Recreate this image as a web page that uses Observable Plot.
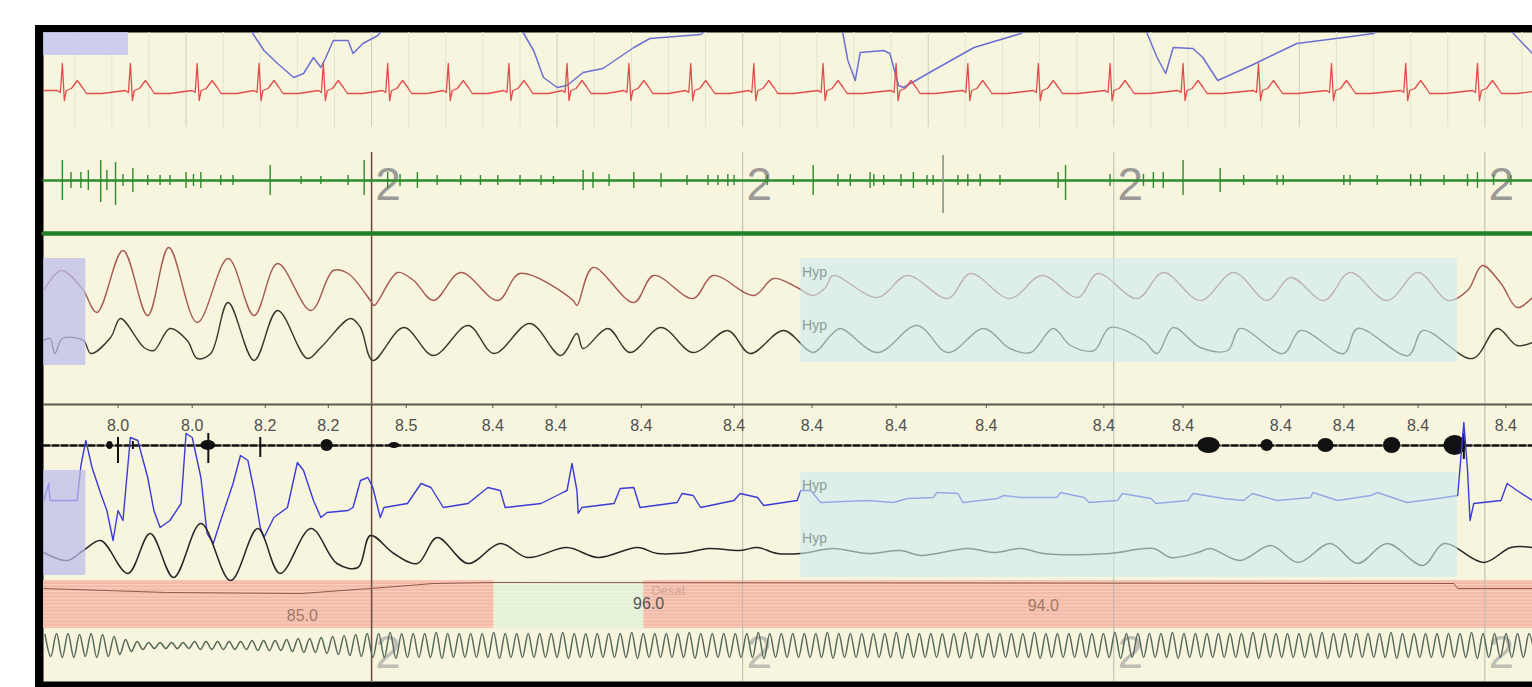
<!DOCTYPE html>
<html><head><meta charset="utf-8">
<script src="https://cdn.jsdelivr.net/npm/d3@7"></script>
<script src="https://cdn.jsdelivr.net/npm/@observablehq/plot@0.6"></script>
<style>
html,body{margin:0;padding:0;background:#fff;width:1532px;height:687px;overflow:hidden;}
#frame{position:absolute;left:35px;top:25px;width:1497px;height:662px;background:#000;}
#chart{position:absolute;left:0;top:0;}
</style></head>
<body><div id="frame"></div><div id="chart"></div>
<script>
// ---------------- DATA (time in seconds, amplitudes in display units, up = positive) ----------------
const epochTimes = [30, 60, 90, 120];
const epochStages = ["2", "2", "2", "2"];
const cursorTime = 30;

// top pleth-like trace (runs off the top of the panel between the dips)
const plethTrace = [[3.48,50],[19.8,50],[20.4,27],[21.3,10],[22.4,-3],[23.7,-17],[24.5,-13],[25.3,3],[25.9,-7],[26.3,3],[26.9,20],[28.1,20],[28.5,7],[29.3,17],[30.5,25],[31.5,40],[41.2,50],[42.3,27],[43.1,10],[43.9,-17],[45.0,-27],[45.8,-25],[47.1,-12],[48.7,-8],[51.2,13],[52.5,22],[56.6,26],[58.2,40],[67.5,50],[68.1,27],[68.5,0],[69.1,-20],[69.5,8],[71.4,10],[71.9,7],[72.6,-25],[73.0,-27],[75.4,-10],[78.7,13],[82.5,27],[83.7,40],[92.2,50],[92.7,27],[93.5,3],[94.2,-13],[94.8,13],[96.4,12],[97.2,3],[98.4,-20],[101.1,-5],[104.8,17],[108.6,23],[111.0,27],[112.4,40],[121.7,50],[122.3,27],[123.85,7]];

// ECG: R-peak times and the beat shape (offset s, amplitude)
const ecgBeatTimes = [5.0,10.5,15.9,20.9,26.1,31.3,36.2,41.1,45.8,50.8,55.8,60.9,66.5,72.4,78.2,83.9,89.7,95.6,101.7,107.6,113.6,119.4];
const ecgBeatShape = [[-0.4,0],[-0.16,-2],[0,27],[0.16,-10],[0.32,0],[0.73,2],[1.21,10],[1.62,3],[1.94,-3],[3.2,-3]];

// EMG bursts: [time, up, down]
const emgSpikes = [[5.0,20,20],[5.7,8,8],[6.5,8,8],[7.1,10,10],[8.1,20,22],[8.6,10,10],[9.3,18,25],[9.9,6,6],[10.7,12,12],[11.9,5,5],[12.9,5,5],[13.7,5,5],[15.0,8,8],[15.6,6,6],[16.2,8,8],[17.8,5,5],[18.8,5,5],[21.8,15,15],[24.3,4,4],[25.9,4,4],[28.1,5,5],[29.4,20,15],[31.3,8,8],[32.3,6,6],[33.7,8,8],[35.3,5,5],[37.2,5,5],[38.8,5,5],[40.2,5,5],
[42.0,5,5],[43.7,5,5],[44.7,4,4],[47.1,10,10],[47.9,8,8],[49.2,6,6],[51.2,8,8],[53.4,7,7],[55.5,5,5],[57.2,5,5],[58.0,5,5],[58.8,6,6],[59.3,5,5],[62.0,5,5],[64.1,5,5],[65.7,15,15],[67.7,6,6],[68.7,6,6],[70.3,8,8],[70.6,6,6],[71.4,5,5],[72.8,6,6],[73.8,8,8],[74.9,5,5],[75.4,5,5],[77.4,5,5],[78.2,6,6],[79.2,6,6],[80.8,5,5],
[85.5,8,8],[86.1,15,20],[89.7,6,6],[92.4,6,6],[93.2,8,8],[94.0,8,8],[95.6,20,15],[98.6,12,12],[100.5,5,5],[103.2,5,5],[103.7,5,5],[108.6,5,5],[109.1,5,5],[111.3,5,5],[114.0,6,6],[114.8,6,6],[116.7,5,5],[118.6,6,6],[119.4,8,8],[120.7,5,5],[122.1,5,5]];
const markerEvents = [[76.2,25,33]];

// thoracic effort
const thoracic = [[3.5,-3],[4.9,17],[6.6,-1],[7.8,-25],[9.9,37],[11.9,-28],[13.6,40],[15.9,-35],[18.4,29],[20.5,-28],[22.4,24],[25.1,-23],[26.9,17],[28.1,14],[29.9,-13],[30.2,-18],[32.1,15],[33.4,7],[35.0,-13],[37.2,15],[40.2,-13],[42.0,14],[46.3,-13],[46.6,-18],[47.9,20],[51.2,-15],[52.8,12],[56.0,-11],[57.6,12],[60.9,-8],[62.5,9],[64.4,0],[65.7,-8],[66.7,0],[67.3,12],[70.9,-10],[73.3,12],[76.6,-11],[78.4,14],[81.6,-11],[84.2,12],[87.1,-10],[88.7,14],[91.9,-11],[94.0,15],[97.0,-13],[99.7,15],[102.4,-13],[104.3,10],[107.0,-13],[109.1,15],[112.1,-13],[114.6,15],[117.0,-13],[118.6,-3],[119.8,22],[121.3,4],[122.6,-20],[123.85,-10]];

// abdominal effort
const abdominal = [[3.5,0],[4.0,2],[4.4,-13],[5.0,2],[6.7,0],[7.3,-13],[8.9,3],[9.7,22],[11.6,-7],[12.4,-10],[13.7,12],[15.1,0],[15.9,-18],[17.0,-13],[18.4,38],[20.5,-20],[22.4,30],[24.8,-18],[25.9,-7],[28.3,22],[29.1,13],[30.1,-20],[32.6,13],[35.0,-15],[37.8,15],[39.9,-13],[42.8,17],[45.3,-15],[46.6,7],[47.1,-8],[49.1,12],[50.9,-12],[53.4,13],[56.0,-12],[58.8,10],[60.6,-13],[63.3,10],[65.7,-12],[67.1,5],[67.9,12],[70.9,-12],[74.1,15],[76.6,-12],[79.5,12],[81.6,-8],[83.3,-12],[85.1,12],[86.5,-5],[88.4,-10],[89.7,13],[92.4,0],[93.5,-13],[94.8,13],[97.0,-7],[99.2,-10],[100.2,12],[103.7,-13],[105.1,10],[108.6,-13],[109.7,12],[113.8,-15],[115.0,10],[119.0,-18],[121.0,12],[122.6,-5],[123.85,-2]];

// values printed along the snore channel
const rateTimes = [9.5,15.5,21.4,26.5,32.8,39.8,44.9,51.8,59.3,65.6,72.4,79.7,89.2,95.6,103.5,108.6,114.6,121.7];
const rateValues = ["8.0","8.0","8.2","8.2","8.5","8.4","8.4","8.4","8.4","8.4","8.4","8.4","8.4","8.4","8.4","8.4","8.4","8.4"];

// snore: bursts [start, end, half-height] and single spikes [time, up, down]
const snoreBursts = [[8.6,9.1,4],[16.2,17.4,5],[25.9,26.9,6],[31.4,32.3,3],[96.8,98.6,8],[101.9,102.9,6],[106.5,107.8,7],[111.8,113.2,8],[116.7,118.5,10]];
const snoreSpikes = [[9.5,8,18],[10.7,4,4],[16.8,12,18],[21.0,8,12],[118.3,12,14]];

// nasal pressure
const nasalFlow = [[3.5,3],[3.9,20],[4.0,3],[6.2,3],[6.5,38],[6.9,63],[7.4,36],[8.1,10],[8.6,-7],[9.1,-37],[9.5,-7],[9.9,-17],[10.5,66],[11.1,63],[11.9,26],[12.4,-7],[12.9,-24],[13.7,-17],[14.6,0],[15.0,70],[15.5,66],[16.2,26],[16.7,-30],[17.2,-40],[17.8,-17],[18.8,20],[19.4,48],[20.0,43],[20.5,13],[21.0,-24],[21.3,-34],[22.1,-14],[23.2,-4],[24.0,41],[24.5,33],[25.3,3],[25.9,-14],[26.4,-9],[28.1,-7],[28.5,-4],[29.1,23],[29.7,26],[30.1,16],[30.7,-14],[31.0,-4],[32.9,0],[34.0,20],[34.8,16],[35.8,-4],[37.8,0],[39.4,16],[40.4,13],[40.8,-4],[43.7,0],[45.3,10],[45.8,13],[46.2,40],[46.6,13],[46.7,-10],[47.0,-4],[49.6,0],[50.1,15],[51.2,16],[51.7,-4],[54.7,1],[55.1,10],[56.0,8],[56.6,-4],[59.3,3],[59.8,10],[61.2,6],[61.7,-2],[64.4,3],[64.7,13],[65.5,13],[66.3,1],[70.1,3],[72.2,1],[73.3,5],[75.4,6],[75.7,11],[77.4,10],[77.8,1],[80.6,5],[81.1,8],[82.5,6],[85.4,6],[85.7,11],[87.6,6],[88.0,1],[90.3,3],[90.7,10],[93.0,5],[93.4,0],[96.0,3],[96.4,10],[98.9,5],[100.5,3],[101.2,10],[103.2,3],[105.9,6],[106.1,11],[108.1,3],[110.8,8],[111.3,11],[113.7,1],[116.2,5],[117.8,8],[118.3,81],[118.6,33],[118.8,-17],[119.1,0],[121.3,3],[121.8,20],[122.6,13],[123.85,3]];

// second effort trace
const effort = [[3.5,-2],[5.4,-10],[6.7,0],[8.1,10],[10.3,-23],[12.1,17],[14.0,-27],[16.2,27],[18.6,-30],[20.8,22],[22.6,-23],[25.1,22],[27.2,-13],[28.9,-17],[29.9,15],[31.8,-3],[33.7,-13],[35.3,13],[37.8,-13],[40.4,7],[42.6,-7],[45.8,3],[48.3,-7],[51.5,3],[53.1,-3],[55.5,-2],[57.2,2],[59.8,0],[61.2,3],[62.8,-3],[64.7,-3],[67.3,2],[70.1,-3],[72.8,0],[74.4,-5],[78.2,2],[80.3,-2],[82.5,2],[84.3,-3],[89.7,-3],[93.2,2],[94.6,-7],[96.8,-2],[97.8,2],[100.2,-10],[102.7,5],[104.9,-12],[107.5,7],[109.7,-13],[112.1,7],[115.0,-15],[116.7,7],[119.9,-12],[122.1,3],[123.85,3]];

// SpO2
const spo2Trace = [[3.5,-3],[13.5,-7],[24.3,-8],[29.9,-3],[35.0,2],[39.9,3],[117.5,2],[117.8,-3],[123.85,-3]];
const spo2Segments = [
  {start: 3.48, end: 39.9, status: "desat", value: 85.0, labelTime: 24.4},
  {start: 39.9, end: 52.0, status: "normal", value: 96.0, labelTime: 52.4},
  {start: 52.0, end: 123.85, status: "desat", value: 94.0, labelTime: 84.3}
];
const desatLabelTime = 52.6;

// respiratory events
const hypopneas = [{start: 64.7, end: 117.8}];
const artifactResp = [{start: 3.48, end: 6.9}];
const artifactTop = [{start: 3.48, end: 10.35}];

// bottom oscillating channel: amplitude of each cycle
const oscPeriod = 0.93, oscStart = 3.6;
const oscAmps = [11,12,12,11,12,11,9,
  6,4,3,3,3,3,4,4,4,4,4,5,5,5,
  6,7,7,8,9,10,11,
  12,12,13,12,12,12,13,12,12,12,12,13,12,12,12,12,12,13,12,12,
  12,12,12,13,12,12,12,12,13,12,12,12,12,12,13,12,12,12,12,12,
  13,12,12,12,12,12,13,12,12,12,12,12,13,12,12,12,12,12,13,12,
  12,12,12,12,12,13,12,12,12,12,13,12,12,12,12,12,12,13,12,12,
  12,12,12,13,12,12,12,12,12,13,12,12,12,12,12,12,13,12,12,12,12,12];

// ---------------- LAYOUT (vertical lanes, in y-scale units measured up from the panel bottom) ----------------
const lane = {pleth: 621, ecg: 591, emg: 501, chin: 448, thor: 394, abd: 341, sep: 277, rateText: 256,
  snore: 236, nasal: 178, effort: 131, spo2: 96, osc: 36};
const band = {grid: [554, 649], epoch: [0, 529], upperEvt: [319, 423], lowerEvt: [104, 209],
  upperArt: [316, 423], lowerArt: [106, 211], topArt: [626, 649], spo2: [53, 101]};
const txt = {stageTop: 496, stageBottom: 28, hypUpper: [409, 356], hypLower: [196, 143], desat: 91, spo2Base: 66};
const FONT = "Liberation Sans, Arial, sans-serif";

// ---------------- DERIVED TABLES ----------------
const ecgSeries = [[3.48, 0]];
for (const r of ecgBeatTimes) for (const [dt, v] of ecgBeatShape) ecgSeries.push([r + dt, v]);
ecgSeries.push([123.85, -1]);

const oscSeries = [];
oscAmps.forEach((a, i) => {
  oscSeries.push([oscStart + i * oscPeriod, a]);
  oscSeries.push([oscStart + (i + 0.5) * oscPeriod, -a]);
});

const gridTimes = d3.range(6, 124, 3);
const stripeRows = d3.range(band.spo2[0] + 2, band.spo2[1], 3.5);
const rateTable = rateTimes.map((t, i) => ({t, label: rateValues[i]}));
const epochTable = epochTimes.map((t, i) => ({t, stage: epochStages[i], cursor: t === cursorTime}));
const span = [{t: 3.48}, {t: 123.85}];

const X = d => d[0];
const on = (base) => (d => base + d[1]);

const chart = Plot.plot({
  width: 1532, height: 687,
  marginLeft: 43, marginRight: 0, marginTop: 32, marginBottom: 6,
  x: {domain: [3.476, 123.85], axis: null},
  y: {domain: [0, 649], axis: null},
  style: {background: "transparent", fontFamily: FONT, overflow: "hidden"},
  marks: [
    Plot.frame({fill: "#f7f5dd", stroke: null}),
    // top-section grid
    Plot.ruleX(gridTimes, {y1: band.grid[0], y2: band.grid[1],
      stroke: t => t % 15 === 0 ? "#c9d0bd" : "#dde7cf", strokeWidth: 1}),
    // SpO2 bands with faint horizontal banding
    Plot.rect(spo2Segments, {x1: "start", x2: "end", y1: band.spo2[0], y2: band.spo2[1],
      fill: d => d.status === "desat" ? "#f4bca8" : "#e4f1d5"}),
    Plot.ruleY(stripeRows, {stroke: "#ffffff", strokeOpacity: 0.3, strokeWidth: 1}),
    // epoch boundaries & cursor
    Plot.ruleX(epochTable, {x: "t", y1: band.epoch[0], y2: band.epoch[1],
      stroke: d => d.cursor ? "#6b4a3c" : "#b9b9ab", strokeWidth: d => d.cursor ? 1.5 : 1}),
    // stage labels
    Plot.text(epochTable, {x: d => d.t + 0.3, y: txt.stageTop, text: "stage", textAnchor: "start",
      fontSize: 46, fill: "#8e8e8e", fillOpacity: 0.9}),
    Plot.text(epochTable, {x: d => d.t + 0.3, y: txt.stageBottom, text: "stage", textAnchor: "start",
      fontSize: 46, fill: "#9a9a9a", fillOpacity: 0.6}),
    // separator
    Plot.ruleY([lane.sep], {stroke: "#5c5c52", strokeWidth: 2}),
    Plot.ruleX(rateTable, {x: "t", y1: lane.sep - 4, y2: lane.sep, stroke: "#5c5c52"}),
    // pleth trace
    Plot.line(plethTrace, {x: X, y: on(lane.pleth), stroke: "#6b70d2", strokeWidth: 1.5, clip: true}),
    // ECG
    Plot.line(ecgSeries, {x: X, y: on(lane.ecg), stroke: "#e24c4c", strokeWidth: 1.3}),
    // EMG
    Plot.line(span, {x: "t", y: lane.emg, stroke: "#2c8a2c", strokeWidth: 2.4}),
    Plot.ruleX(emgSpikes, {x: X, y1: d => lane.emg - d[2], y2: d => lane.emg + d[1], stroke: "#2c8a2c", strokeWidth: 1.4}),
    Plot.ruleX(markerEvents, {x: X, y1: d => lane.emg - d[2], y2: d => lane.emg + d[1], stroke: "#8a948a", strokeWidth: 1.6}),
    Plot.line(span, {x: "t", y: lane.chin, stroke: "#23802a", strokeWidth: 4.5}),
    // efforts
    Plot.line(thoracic, {x: X, y: on(lane.thor), stroke: "#a65a50", strokeWidth: 1.4, curve: "catmull-rom"}),
    Plot.line(abdominal, {x: X, y: on(lane.abd), stroke: "#34382e", strokeWidth: 1.4, curve: "catmull-rom"}),
    // snore
    Plot.line(span, {x: "t", y: lane.snore, stroke: "#111", strokeWidth: 2.6, strokeDasharray: "6,3"}),
    Plot.rect(snoreBursts, {x1: d => d[0], x2: d => d[1], y1: d => lane.snore - d[2], y2: d => lane.snore + d[2], rx: 14, fill: "#111"}),
    Plot.ruleX(snoreSpikes, {x: X, y1: d => lane.snore - d[2], y2: d => lane.snore + d[1], stroke: "#111", strokeWidth: 2}),
    // nasal pressure & effort
    Plot.line(nasalFlow, {x: X, y: on(lane.nasal), stroke: "#3b3bd6", strokeWidth: 1.4}),
    Plot.line(effort, {x: X, y: on(lane.effort), stroke: "#262626", strokeWidth: 1.5, curve: "catmull-rom"}),
    // SpO2 trace
    Plot.line(spo2Trace, {x: X, y: on(lane.spo2), stroke: "#8f5a4a", strokeWidth: 1}),
    // bottom oscillation
    Plot.line(oscSeries, {x: X, y: on(lane.osc), stroke: "#56695a", strokeWidth: 1.5, curve: "catmull-rom", clip: true}),
    // event overlays
    Plot.rect(hypopneas, {x1: "start", x2: "end", y1: band.upperEvt[0], y2: band.upperEvt[1], fill: "#cdebef", fillOpacity: 0.62}),
    Plot.rect(hypopneas, {x1: "start", x2: "end", y1: band.lowerEvt[0], y2: band.lowerEvt[1], fill: "#cdebef", fillOpacity: 0.62}),
    Plot.rect(artifactResp, {x1: "start", x2: "end", y1: band.upperArt[0], y2: band.upperArt[1], fill: "#bcbcec", fillOpacity: 0.72}),
    Plot.rect(artifactResp, {x1: "start", x2: "end", y1: band.lowerArt[0], y2: band.lowerArt[1], fill: "#bcbcec", fillOpacity: 0.72}),
    Plot.rect(artifactTop, {x1: "start", x2: "end", y1: band.topArt[0], y2: band.topArt[1], fill: "#c6c6f0", fillOpacity: 0.85}),
    // event labels
    ...[0, 1].map(k => Plot.text(hypopneas, {x: d => d.start + 0.1, y: txt.hypUpper[k], text: () => "Hyp", textAnchor: "start", fontSize: 14, fill: "#8c9c9c"})),
    ...[0, 1].map(k => Plot.text(hypopneas, {x: d => d.start + 0.1, y: txt.hypLower[k], text: () => "Hyp", textAnchor: "start", fontSize: 14, fill: "#8c9c9c"})),
    // rate values
    Plot.text(rateTable, {x: "t", y: lane.rateText, text: "label", fontSize: 16, fill: "#505050"}),
    // SpO2 labels
    Plot.text([{t: desatLabelTime}], {x: "t", y: txt.desat, text: () => "Desat", textAnchor: "start", fontSize: 13, fill: "#c29a90", fillOpacity: 0.7}),
    Plot.text(spo2Segments, {x: "labelTime", y: d => txt.spo2Base + (d.value - 85) * 1.1, text: d => d.value.toFixed(1),
      fontSize: 16, fill: d => d.status === "desat" ? "#a07868" : "#555"})
  ]
});
document.getElementById("chart").appendChild(chart);
</script>
</body></html>
